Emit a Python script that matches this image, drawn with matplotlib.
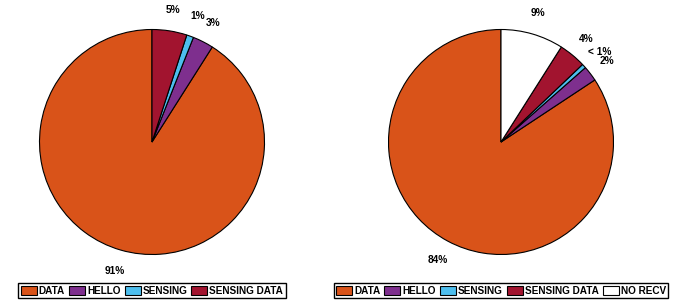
import matplotlib.pyplot as plt
import matplotlib

matplotlib.rcParams['font.family'] = ['Liberation Sans', 'DejaVu Sans']
matplotlib.rcParams['font.weight'] = 'bold'

# data
left_names = ['DATA', 'HELLO', 'SENSING', 'SENSING DATA']
left_values = [91, 3, 1, 5]
left_labels = ['91%', '3%', '1%', '5%']

right_names = ['DATA', 'HELLO', 'SENSING', 'SENSING DATA', 'NO RECV']
right_values = [84.3, 2.2, 0.6, 3.9, 9.0]
right_labels = ['84%', '2%', '< 1%', '4%', '9%']

colors = ['#D95319', '#7E2F8E', '#4DBEEE', '#A2142F', '#FFFFFF']

fig = plt.figure(figsize=(6.85, 3.02), dpi=100)

W, H = 685.0, 302.0
R = 112.5
lim = 1.02


def draw_pie(cx, cy, values, labels, names):
    size = 2 * R * lim
    ax = fig.add_axes([(cx - R * lim) / W, (H - cy - R * lim) / H, size / W, size / H])
    wedges, texts = ax.pie(values, labels=labels, colors=colors[:len(values)],
                           startangle=90, counterclock=True, labeldistance=1.19,
                           wedgeprops=dict(edgecolor='black', linewidth=0.8),
                           textprops=dict(fontsize=7.3, fontweight='bold', ha='center', va='center'))
    ax.set_xlim(-lim, lim)
    ax.set_ylim(-lim, lim)
    ax.set_aspect('equal')
    ax.axis('off')
    leg = fig.legend(wedges, names, loc='center', ncol=len(names),
                     bbox_to_anchor=(cx / W, (H - 290.5) / H),
                     fontsize=7.2, handlelength=1.6, handleheight=1.0, handletextpad=0.2,
                     columnspacing=0.4, borderpad=0.25, fancybox=False,
                     edgecolor='black', framealpha=1, borderaxespad=0)
    leg.get_frame().set_linewidth(1.0)
    return ax


draw_pie(152, 142, left_values, left_labels, left_names)
draw_pie(501, 142, right_values, right_labels, right_names)

plt.savefig('out.png', dpi=100)
